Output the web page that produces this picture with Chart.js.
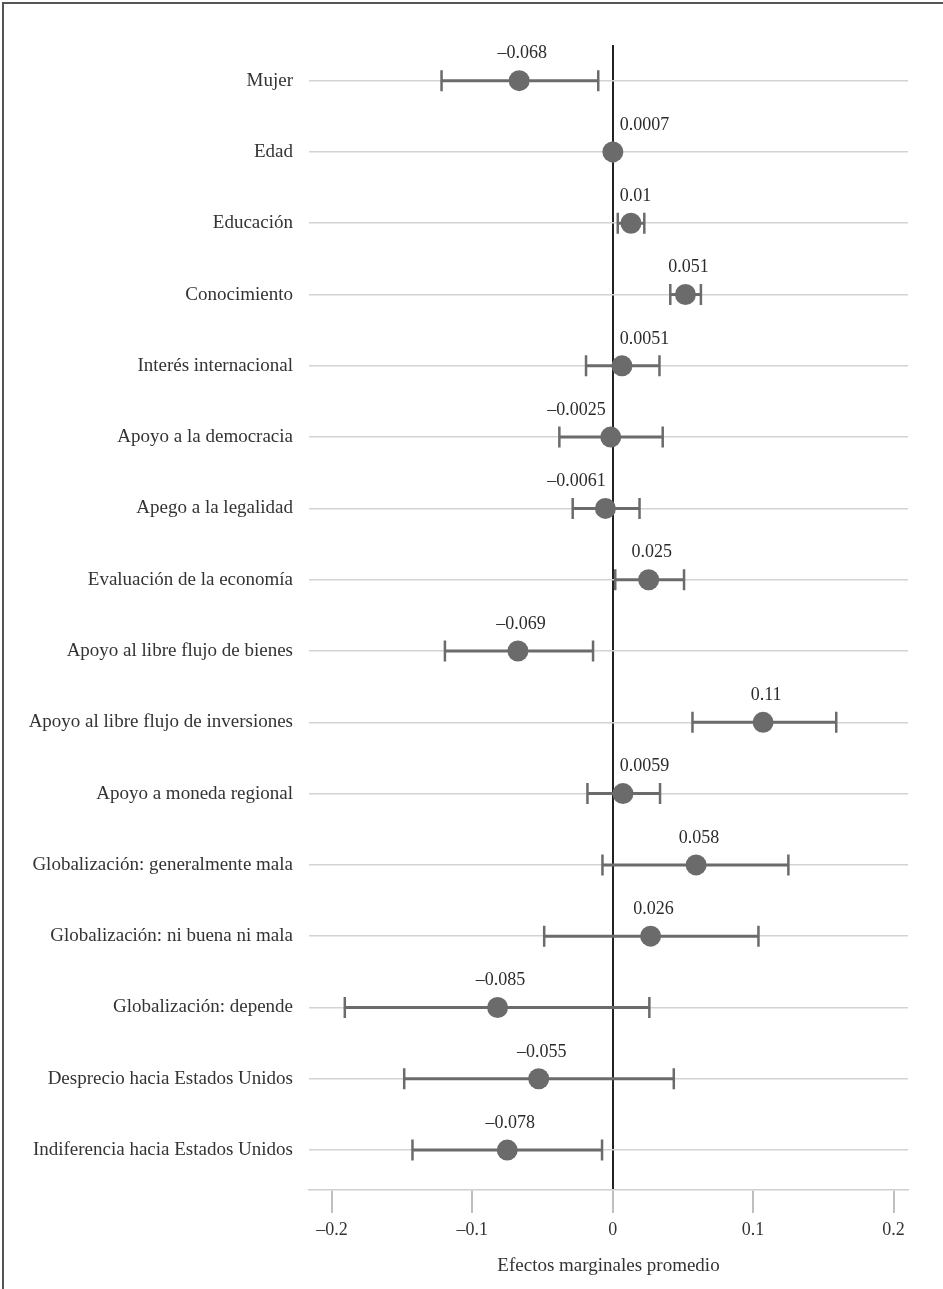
<!DOCTYPE html>
<html>
<head>
<meta charset="utf-8">
<script src="https://cdn.jsdelivr.net/npm/chart.js@4"></script>
<style>
  html, body { margin: 0; padding: 0; background: #fff; }
  #wrap { width: 943px; height: 1289px; position: relative; }
</style>
</head>
<body>
<div id="wrap"><canvas id="efectos"></canvas></div>
<script>
const categorias = [
  'Mujer',
  'Edad',
  'Educación',
  'Conocimiento',
  'Interés internacional',
  'Apoyo a la democracia',
  'Apego a la legalidad',
  'Evaluación de la economía',
  'Apoyo al libre flujo de bienes',
  'Apoyo al libre flujo de inversiones',
  'Apoyo a moneda regional',
  'Globalización: generalmente mala',
  'Globalización: ni buena ni mala',
  'Globalización: depende',
  'Desprecio hacia Estados Unidos',
  'Indiferencia hacia Estados Unidos'
]
const efecto = [-0.0666, 0.0001, 0.0130, 0.0518, 0.0066, -0.0014, -0.0052, 0.0256, -0.0675, 0.1071, 0.0073, 0.0594, 0.0270, -0.0820, -0.0527, -0.0751]
const limiteInf = [-0.1219, -0.0001, 0.0036, 0.0410, -0.0190, -0.0380, -0.0285, 0.0018, -0.1195, 0.0568, -0.0180, -0.0073, -0.0488, -0.1908, -0.1485, -0.1426]
const limiteSup = [-0.0103, 0.0003, 0.0225, 0.0628, 0.0333, 0.0356, 0.0191, 0.0508, -0.0140, 0.1592, 0.0337, 0.1251, 0.1038, 0.0261, 0.0435, -0.0076]
const etiquetas = ['–0.068', '0.0007', '0.01', '0.051', '0.0051', '–0.0025', '–0.0061', '0.025', '–0.069', '0.11', '0.0059', '0.058', '0.026', '–0.085', '–0.055', '–0.078']
const ticksX = [-0.2, -0.1, 0, 0.1, 0.2]

const serif = "'Liberation Serif', 'DejaVu Serif', serif"
const gris = '#6b6b6b'

Chart.defaults.font.family = serif
Chart.defaults.color = '#333'

const marco = {
  id: 'marco',
  beforeDraw: (chart) => {
    const ctx = chart.ctx
    ctx.save()
    ctx.fillStyle = '#fff'
    ctx.fillRect(0, 0, chart.width, chart.height)
    ctx.strokeStyle = '#555'
    ctx.lineWidth = 2
    ctx.beginPath()
    ctx.moveTo(3, chart.height)
    ctx.lineTo(3, 3)
    ctx.lineTo(chart.width, 3)
    ctx.stroke()
    ctx.restore()
  }
}

const barrasError = {
  id: 'barrasError',
  beforeDatasetsDraw: (chart) => {
    const { ctx, scales: { x, y } } = chart
    ctx.save()
    ctx.strokeStyle = gris
    efecto.forEach((v, i) => {
      const py = y.getPixelForValue(i)
      const x1 = x.getPixelForValue(limiteInf[i])
      const x2 = x.getPixelForValue(limiteSup[i])
      ctx.lineWidth = 3
      ctx.beginPath()
      ctx.moveTo(x1, py)
      ctx.lineTo(x2, py)
      ctx.stroke()
      ctx.lineWidth = 2.5
      ctx.beginPath()
      ctx.moveTo(x1, py - 10.5)
      ctx.lineTo(x1, py + 10.5)
      ctx.moveTo(x2, py - 10.5)
      ctx.lineTo(x2, py + 10.5)
      ctx.stroke()
    })
    ctx.restore()
  }
}

// etiquetas de valor encima de cada punto, apartadas de la línea del cero
const etiquetasValor = {
  id: 'etiquetasValor',
  afterDatasetsDraw: (chart) => {
    const { ctx, scales: { x, y } } = chart
    const cero = x.getPixelForValue(0)
    ctx.save()
    ctx.font = '18px ' + serif
    ctx.fillStyle = '#2b2b2b'
    ctx.textBaseline = 'middle'
    ctx.textAlign = 'left'
    efecto.forEach((v, i) => {
      const texto = etiquetas[i]
      const w = ctx.measureText(texto).width
      let izq = x.getPixelForValue(v) + 3 - w / 2
      if (v >= 0 && izq < cero + 7) izq = cero + 7
      if (v < 0 && izq + w > cero - 7) izq = cero - 7 - w
      ctx.fillText(texto, izq, y.getPixelForValue(i) - 27)
    })
    ctx.restore()
  }
}

const config = {
  type: 'scatter',
  data: {
    datasets: [{
      data: efecto.map((v, i) => ({ x: v, y: i })),
      backgroundColor: gris,
      borderColor: gris,
      borderWidth: 0,
      pointRadius: 10.5,
      pointHoverRadius: 10.5
    }]
  },
  options: {
    responsive: true,
    maintainAspectRatio: false,
    animation: false,
    layout: { padding: { top: 45, right: 35, bottom: 0, left: 0 } },
    plugins: {
      legend: { display: false },
      tooltip: { enabled: false }
    },
    scales: {
      x: {
        type: 'linear',
        min: -0.2163,
        max: 0.2103,
        afterBuildTicks: (scale) => {
          scale.ticks = ticksX.map(v => ({ value: v }))
        },
        afterFit: (scale) => { scale.height = 99 },
        ticks: {
          font: { size: 18 },
          color: '#333',
          padding: 6,
          maxRotation: 0,
          callback: (v) => v === 0 ? '0' : (v < 0 ? '–' : '') + Math.abs(v)
        },
        grid: {
          color: (c) => c.tick && c.tick.value === 0 ? '#222' : 'rgba(0,0,0,0)',
          lineWidth: 2,
          tickColor: '#aaa',
          tickWidth: 1.5,
          tickLength: 23
        },
        border: { display: true, color: '#cfcfcf', width: 1.5 },
        title: {
          display: true,
          text: 'Efectos marginales promedio',
          font: { size: 19 },
          color: '#333',
          padding: { top: 2, bottom: 12 }
        }
      },
      y: {
        type: 'linear',
        reverse: true,
        min: -0.5,
        max: 15.56,
        afterBuildTicks: (scale) => {
          scale.ticks = categorias.map((c, i) => ({ value: i }))
        },
        afterFit: (scale) => { scale.width = 309 },
        ticks: {
          autoSkip: false,
          font: { size: 19 },
          color: '#333',
          padding: 16,
          callback: (v) => categorias[v]
        },
        grid: {
          color: '#d3d3d3',
          lineWidth: 1.5,
          drawTicks: false
        },
        border: { display: false }
      }
    }
  },
  plugins: [marco, barrasError, etiquetasValor]
}

new Chart(document.getElementById('efectos'), config)
</script>
</body>
</html>
